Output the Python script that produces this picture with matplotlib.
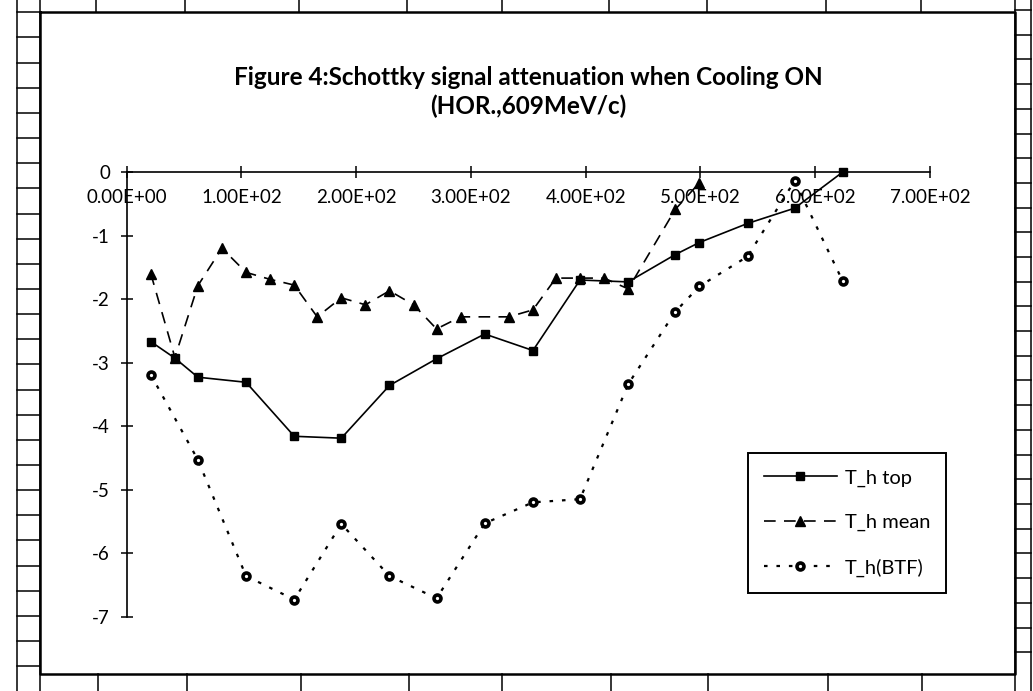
import matplotlib.pyplot as plt

# data
top_x = [21, 42, 62, 104, 146, 187, 229, 270, 312, 354, 395, 437, 478, 499, 541, 582, 624]
top_y = [-2.67, -2.93, -3.23, -3.31, -4.16, -4.19, -3.36, -2.94, -2.55, -2.81, -1.70, -1.73,
         -1.30, -1.11, -0.81, -0.57, 0.0]

mean_x = [21, 42, 62, 83, 104, 125, 146, 166, 187, 208, 229, 250, 270, 291, 333, 354, 374,
          395, 416, 437, 478, 499]
mean_y = [-1.60, -2.92, -1.79, -1.20, -1.58, -1.69, -1.78, -2.28, -1.98, -2.09, -1.87, -2.09,
          -2.47, -2.28, -2.28, -2.17, -1.67, -1.67, -1.67, -1.84, -0.59, -0.17]

btf_x = [21, 62, 104, 146, 187, 229, 270, 312, 354, 395, 437, 478, 499, 541, 582, 624]
btf_y = [-3.19, -4.53, -6.36, -6.73, -5.54, -6.36, -6.71, -5.53, -5.20, -5.15, -3.34, -2.20,
         -1.80, -1.33, -0.14, -1.72]

x_ticks = [0, 100, 200, 300, 400, 500, 600, 700]
x_labels = ["0.00E+00", "1.00E+02", "2.00E+02", "3.00E+02", "4.00E+02", "5.00E+02",
            "6.00E+02", "7.00E+02"]
y_ticks = [0, -1, -2, -3, -4, -5, -6, -7]
y_labels = ["0", "-1", "-2", "-3", "-4", "-5", "-6", "-7"]

title = "Figure 4:Schottky signal attenuation when Cooling ON\n(HOR.,609MeV/c)"

plt.rcParams['font.family'] = ['Lato', 'DejaVu Sans']

W, H = 1033, 691
fig = plt.figure(figsize=(W / 100, H / 100), dpi=100)

# spreadsheet cell grid around the chart (pixel coords)
bg = fig.add_axes([0, 0, 1, 1], zorder=-1)
bg.set_xlim(0, W)
bg.set_ylim(H, 0)
bg.axis('off')
k = dict(color='black', lw=1.1)
bg.plot([17, 17], [0, H], **k)
bg.plot([40, 40], [0, H], **k)
bg.plot([1015, 1015], [0, H], **k)
bg.plot([1031, 1031], [0, H], **k)
y = 12.3
while y < 672:
    bg.plot([17, 40], [y, y], **k)
    y += 25.15
y = 10
while y < 672:
    bg.plot([1015, 1031], [y, y], **k)
    y += 24.7
for xv in [96, 185, 299, 407, 502, 609, 707, 826, 921]:
    bg.plot([xv, xv], [0, 12], **k)
for xv in [98, 187, 301, 409, 502, 611, 708, 828, 922]:
    bg.plot([xv, xv], [674, H], **k)
# chart area border
bg.plot([40, 1015, 1015, 40, 40], [12, 12, 674, 674, 12], color='black', lw=1.8)

left, right = 126.7 / W, 930 / W
top, bottom = 1 - 172 / H, 1 - 616.7 / H
ax = fig.add_axes([left, bottom, right - left, top - bottom])
ax.set_xlim(0, 700)
ax.set_ylim(-7, 0)
ax.patch.set_alpha(0)

ax.spines['right'].set_visible(False)
ax.spines['top'].set_visible(False)
ax.spines['bottom'].set_position(('data', 0))
for s in ['left', 'bottom']:
    ax.spines[s].set_linewidth(1.2)
    ax.spines[s].set_zorder(1)

ax.set_xticks(x_ticks)
ax.set_xticklabels(x_labels)
ax.set_yticks(y_ticks)
ax.set_yticklabels(y_labels)
ax.tick_params(direction='inout', length=8, width=1.1, pad=8, labelsize=13.5)

ax.plot(top_x, top_y, color='black', lw=1.2, marker='s', ms=5.5, mfc='black', mec='black',
        clip_on=False, zorder=3, label='T_h top')
ax.plot(mean_x, mean_y, color='black', lw=1.2, ls=(0, (7, 5)), marker='^', ms=7, mfc='black',
        mec='black', clip_on=False, zorder=3, label='T_h mean')
ax.plot(btf_x, btf_y, color='black', lw=1.6, ls=(0, (1.6, 4)), marker='o', ms=5, mfc='white',
        mec='black', mew=2.6, clip_on=False, zorder=3, label='T_h(BTF)')

leg = ax.legend(loc='upper left', bbox_to_anchor=(0.7734, 0.368), fontsize=14.5, frameon=True,
                fancybox=False, edgecolor='black', framealpha=1, handlelength=3.6,
                handletextpad=0.4, labelspacing=1.35, borderpad=0.8, borderaxespad=0)
leg.get_frame().set_linewidth(1.4)

fig.text(528 / W, 1 - 92 / H, title, ha='center', va='center', fontsize=17.5, fontweight='bold',
         linespacing=1.25)

fig.savefig('out.png', dpi=100)
